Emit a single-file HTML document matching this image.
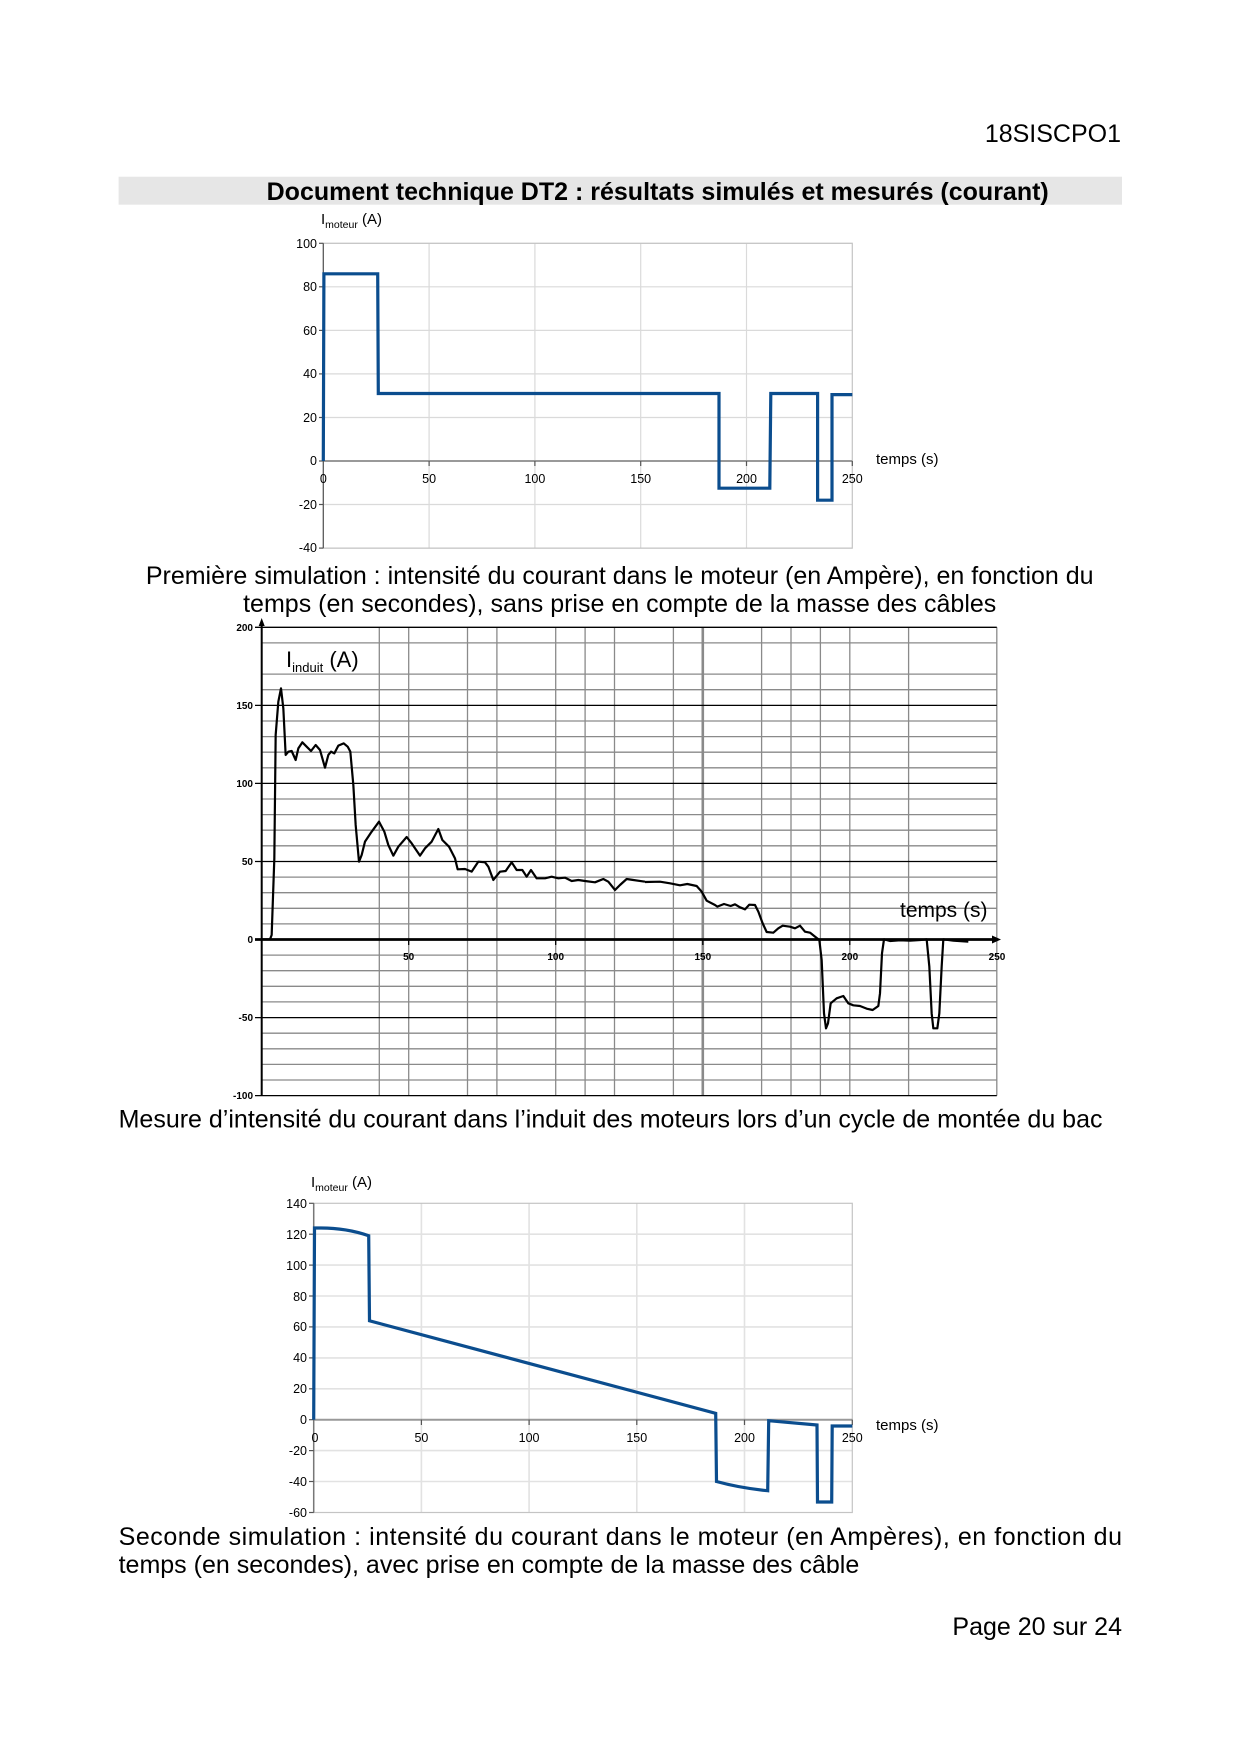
<!DOCTYPE html>
<html><head><meta charset="utf-8"><style>
html,body{margin:0;padding:0;background:#fff}
svg{display:block}
text{font-family:"Liberation Sans",Arial,sans-serif}
</style></head><body>
<svg width="1240" height="1754" viewBox="0 0 1240 1754" xmlns="http://www.w3.org/2000/svg">
<rect width="1240" height="1754" fill="#fff"/>
<text x="1121" y="142" font-size="25" text-anchor="end">18SISCPO1</text>
<rect x="118.6" y="176.7" width="1003.4" height="28" fill="#e6e6e6"/>
<text x="657.7" y="200" font-size="25" font-weight="bold" text-anchor="middle">Document technique DT2 : résultats simulés et mesurés (courant)</text>

<!-- Chart 1 -->
<g stroke="#dadada" stroke-width="1.2">
<line x1="323.3" y1="243.3" x2="852.3" y2="243.3"/><line x1="323.3" y1="286.8" x2="852.3" y2="286.8"/><line x1="323.3" y1="330.4" x2="852.3" y2="330.4"/><line x1="323.3" y1="373.9" x2="852.3" y2="373.9"/><line x1="323.3" y1="417.5" x2="852.3" y2="417.5"/><line x1="323.3" y1="504.5" x2="852.3" y2="504.5"/><line x1="323.3" y1="548.1" x2="852.3" y2="548.1"/>
<line x1="429.1" y1="243.3" x2="429.1" y2="548.1"/><line x1="534.9" y1="243.3" x2="534.9" y2="548.1"/><line x1="640.7" y1="243.3" x2="640.7" y2="548.1"/><line x1="746.5" y1="243.3" x2="746.5" y2="548.1"/>
</g>
<rect x="323.3" y="243.3" width="529" height="304.8" fill="none" stroke="#c4c4c4" stroke-width="1.2"/>
<line x1="323.3" y1="461" x2="852.3" y2="461" stroke="#999" stroke-width="2"/>
<line x1="323.3" y1="243.3" x2="323.3" y2="548.1" stroke="#555" stroke-width="1.2"/>
<g stroke="#555" stroke-width="1.2">
<line x1="319" y1="243.3" x2="323.3" y2="243.3"/><line x1="319" y1="286.8" x2="323.3" y2="286.8"/><line x1="319" y1="330.4" x2="323.3" y2="330.4"/><line x1="319" y1="373.9" x2="323.3" y2="373.9"/><line x1="319" y1="417.5" x2="323.3" y2="417.5"/><line x1="319" y1="461" x2="323.3" y2="461"/><line x1="319" y1="504.5" x2="323.3" y2="504.5"/><line x1="319" y1="548.1" x2="323.3" y2="548.1"/>
<line x1="429.1" y1="461" x2="429.1" y2="466"/><line x1="534.9" y1="461" x2="534.9" y2="466"/><line x1="640.7" y1="461" x2="640.7" y2="466"/><line x1="746.5" y1="461" x2="746.5" y2="466"/><line x1="852.3" y1="461" x2="852.3" y2="466"/>
</g>
<g font-size="12.5" text-anchor="end">
<text x="317" y="248">100</text><text x="317" y="291">80</text><text x="317" y="335">60</text><text x="317" y="378">40</text><text x="317" y="422">20</text><text x="317" y="465">0</text><text x="317" y="509">-20</text><text x="317" y="552">-40</text>
</g>
<g font-size="12.5" text-anchor="middle">
<text x="323.3" y="483">0</text><text x="429.1" y="483">50</text><text x="534.9" y="483">100</text><text x="640.7" y="483">150</text><text x="746.5" y="483">200</text><text x="852.3" y="483">250</text>
</g>
<text x="876" y="464" font-size="15">temps (s)</text>
<text x="321" y="224" font-size="15">I<tspan font-size="10.5" dy="4">moteur</tspan><tspan dy="-4"> (A)</tspan></text>
<polyline fill="none" stroke="#0b4d8e" stroke-width="3.2" points="323.3,461 323.9,273.8 377.7,273.8 378.3,393.5 719,393.5 719,488.2 769.8,488.2 770.8,393.5 817.6,393.5 817.6,500.2 832,500.2 832,394.6 852.3,394.6"/>

<text x="619.7" y="584" font-size="25" text-anchor="middle">Première simulation : intensité du courant dans le moteur (en Ampère), en fonction du</text>
<text x="619.7" y="612" font-size="25" text-anchor="middle">temps (en secondes), sans prise en compte de la masse des câbles</text>

<!-- Chart 2 -->
<g stroke="#8a8a8a" stroke-width="1.3">
<line x1="261.7" y1="642.9" x2="996.8" y2="642.9"/><line x1="261.7" y1="674.1" x2="996.8" y2="674.1"/><line x1="261.7" y1="689.7" x2="996.8" y2="689.7"/><line x1="261.7" y1="721" x2="996.8" y2="721"/><line x1="261.7" y1="736.6" x2="996.8" y2="736.6"/><line x1="261.7" y1="752.2" x2="996.8" y2="752.2"/><line x1="261.7" y1="767.8" x2="996.8" y2="767.8"/><line x1="261.7" y1="799" x2="996.8" y2="799"/><line x1="261.7" y1="814.6" x2="996.8" y2="814.6"/><line x1="261.7" y1="830.2" x2="996.8" y2="830.2"/><line x1="261.7" y1="845.8" x2="996.8" y2="845.8"/><line x1="261.7" y1="877.1" x2="996.8" y2="877.1"/><line x1="261.7" y1="892.7" x2="996.8" y2="892.7"/><line x1="261.7" y1="908.3" x2="996.8" y2="908.3"/><line x1="261.7" y1="923.9" x2="996.8" y2="923.9"/><line x1="261.7" y1="955.1" x2="996.8" y2="955.1"/><line x1="261.7" y1="970.7" x2="996.8" y2="970.7"/><line x1="261.7" y1="986.3" x2="996.8" y2="986.3"/><line x1="261.7" y1="1001.9" x2="996.8" y2="1001.9"/><line x1="261.7" y1="1033.2" x2="996.8" y2="1033.2"/><line x1="261.7" y1="1048.8" x2="996.8" y2="1048.8"/><line x1="261.7" y1="1064.4" x2="996.8" y2="1064.4"/><line x1="261.7" y1="1080" x2="996.8" y2="1080"/>
<line x1="379.3" y1="627.3" x2="379.3" y2="1095.6"/><line x1="408.7" y1="627.3" x2="408.7" y2="1095.6"/><line x1="467.5" y1="627.3" x2="467.5" y2="1095.6"/><line x1="496.9" y1="627.3" x2="496.9" y2="1095.6"/><line x1="555.7" y1="627.3" x2="555.7" y2="1095.6"/><line x1="585.1" y1="627.3" x2="585.1" y2="1095.6"/><line x1="614.5" y1="627.3" x2="614.5" y2="1095.6"/><line x1="673.4" y1="627.3" x2="673.4" y2="1095.6"/><line x1="702.8" y1="627.3" x2="702.8" y2="1095.6" stroke-width="2.6"/><line x1="761.6" y1="627.3" x2="761.6" y2="1095.6"/><line x1="791" y1="627.3" x2="791" y2="1095.6"/><line x1="820.4" y1="627.3" x2="820.4" y2="1095.6"/><line x1="849.8" y1="627.3" x2="849.8" y2="1095.6"/><line x1="908.6" y1="627.3" x2="908.6" y2="1095.6"/><line x1="996.8" y1="627.3" x2="996.8" y2="1095.6"/>
</g>
<g stroke="#000" stroke-width="1.3">
<line x1="255" y1="627.3" x2="996.8" y2="627.3"/><line x1="255" y1="705.4" x2="996.8" y2="705.4"/><line x1="255" y1="783.4" x2="996.8" y2="783.4"/><line x1="255" y1="861.5" x2="996.8" y2="861.5"/><line x1="255" y1="1017.6" x2="996.8" y2="1017.6"/><line x1="255" y1="1095.6" x2="996.8" y2="1095.6"/>
<line x1="261.7" y1="622" x2="261.7" y2="1095.6" stroke-width="2"/>
</g>
<polygon points="261.7,618 258.7,626 264.7,626" fill="#000"/>
<line x1="255" y1="939.5" x2="994" y2="939.5" stroke="#000" stroke-width="2.8"/>
<polygon points="1001,939.5 992,935.5 992,943.5" fill="#000"/>
<g stroke="#000" stroke-width="1.3"><line x1="408.7" y1="939.5" x2="408.7" y2="945"/><line x1="555.7" y1="939.5" x2="555.7" y2="945"/><line x1="702.8" y1="939.5" x2="702.8" y2="945"/><line x1="849.8" y1="939.5" x2="849.8" y2="945"/></g>
<g font-size="10" font-weight="bold" text-anchor="end">
<text x="253" y="631">200</text><text x="253" y="709">150</text><text x="253" y="787">100</text><text x="253" y="865">50</text><text x="253" y="943">0</text><text x="253" y="1021">-50</text><text x="253" y="1099">-100</text>
</g>
<g font-size="10" font-weight="bold" text-anchor="middle">
<text x="408.7" y="960">50</text><text x="555.7" y="960">100</text><text x="702.8" y="960">150</text><text x="849.8" y="960">200</text><text x="997" y="960">250</text>
</g>
<text x="900" y="917" font-size="21">temps (s)</text>
<text x="286" y="667" font-size="22">I<tspan font-size="13" dy="5">induit</tspan><tspan dy="-5"> (A)</tspan></text>
<g fill="none" stroke="#000" stroke-width="2.2" stroke-linejoin="round">
<polyline transform="translate(225,625) scale(0.33333)" vector-effect="non-scaling-stroke" points="110,943 135,943 140,930 148,700 152,330 160,230 168,190 175,250 182,390 190,380 200,378 212,405 220,370 232,352 245,365 258,378 272,360 285,375 300,428 310,390 318,380 328,385 340,362 356,355 368,365 376,380 385,480 392,600 402,710 410,690 420,650 440,620 462,590 478,620 490,660 505,692 520,665 545,636 560,655 585,692 600,670 620,650 640,612 652,645 672,665 690,700 698,733 720,732 740,740 760,710 780,712 790,725 805,765 825,740 842,738 860,712 875,735 892,735 905,755 918,735 935,760 960,760 980,755 1000,760 1020,758 1040,768 1060,765 1080,768 1110,772 1125,766 1135,762 1150,770 1170,795 1185,780 1205,762 1225,765 1260,770"/>
<polyline transform="translate(600,780) scale(0.33333)" vector-effect="non-scaling-stroke" points="135,306 180,305 210,310 240,316 262,312 290,318 305,335 320,362 345,375 352,380 372,372 392,378 405,373 420,382 435,388 448,374 465,375 475,395 488,430 500,456 520,458 535,445 548,437 570,440 585,445 600,437 615,455 630,458 645,470 658,480 665,540 672,700 678,745 684,730 692,670 710,655 730,648 745,670 760,676 780,678 800,686 818,690 835,678 840,640 846,520 852,478 870,483 900,481 930,482 960,480 980,478 988,560 995,700 1000,745 1012,745 1018,700 1025,560 1030,478 1060,482 1105,485"/>
</g>

<text x="118.6" y="1127.6" font-size="25">Mesure d’intensité du courant dans l’induit des moteurs lors d’un cycle de montée du bac</text>

<!-- Chart 3 -->
<g stroke="#e2e2e2" stroke-width="1.6">
<line x1="313.7" y1="1234.2" x2="852.3" y2="1234.2"/><line x1="313.7" y1="1265.1" x2="852.3" y2="1265.1"/><line x1="313.7" y1="1296" x2="852.3" y2="1296"/><line x1="313.7" y1="1326.9" x2="852.3" y2="1326.9"/><line x1="313.7" y1="1357.9" x2="852.3" y2="1357.9"/><line x1="313.7" y1="1388.8" x2="852.3" y2="1388.8"/><line x1="313.7" y1="1450.6" x2="852.3" y2="1450.6"/><line x1="313.7" y1="1481.5" x2="852.3" y2="1481.5"/>
<line x1="421.4" y1="1203.3" x2="421.4" y2="1512.5"/><line x1="529.1" y1="1203.3" x2="529.1" y2="1512.5"/><line x1="636.8" y1="1203.3" x2="636.8" y2="1512.5"/><line x1="744.5" y1="1203.3" x2="744.5" y2="1512.5"/>
</g>
<rect x="313.7" y="1203.3" width="538.6" height="309.2" fill="none" stroke="#c4c4c4" stroke-width="1.2"/>
<line x1="313.7" y1="1419.7" x2="852.3" y2="1419.7" stroke="#999" stroke-width="2"/>
<line x1="313.7" y1="1203.3" x2="313.7" y2="1512.5" stroke="#777" stroke-width="1.5"/>
<g stroke="#555" stroke-width="1.2">
<line x1="309" y1="1203.3" x2="313.7" y2="1203.3"/><line x1="309" y1="1234.2" x2="313.7" y2="1234.2"/><line x1="309" y1="1265.1" x2="313.7" y2="1265.1"/><line x1="309" y1="1296" x2="313.7" y2="1296"/><line x1="309" y1="1326.9" x2="313.7" y2="1326.9"/><line x1="309" y1="1357.9" x2="313.7" y2="1357.9"/><line x1="309" y1="1388.8" x2="313.7" y2="1388.8"/><line x1="309" y1="1419.7" x2="313.7" y2="1419.7"/><line x1="309" y1="1450.6" x2="313.7" y2="1450.6"/><line x1="309" y1="1481.5" x2="313.7" y2="1481.5"/><line x1="309" y1="1512.5" x2="313.7" y2="1512.5"/>
<line x1="421.4" y1="1419.7" x2="421.4" y2="1425"/><line x1="529.1" y1="1419.7" x2="529.1" y2="1425"/><line x1="636.8" y1="1419.7" x2="636.8" y2="1425"/><line x1="744.5" y1="1419.7" x2="744.5" y2="1425"/><line x1="852.3" y1="1419.7" x2="852.3" y2="1425"/>
</g>
<g font-size="12.5" text-anchor="end">
<text x="307" y="1208">140</text><text x="307" y="1239">120</text><text x="307" y="1270">100</text><text x="307" y="1301">80</text><text x="307" y="1331">60</text><text x="307" y="1362">40</text><text x="307" y="1393">20</text><text x="307" y="1424">0</text><text x="307" y="1455">-20</text><text x="307" y="1486">-40</text><text x="307" y="1517">-60</text>
</g>
<g font-size="12.5" text-anchor="middle">
<text x="315" y="1442">0</text><text x="421.4" y="1442">50</text><text x="529.1" y="1442">100</text><text x="636.8" y="1442">150</text><text x="744.5" y="1442">200</text><text x="852.3" y="1442">250</text>
</g>
<text x="876" y="1430" font-size="15">temps (s)</text>
<text x="311" y="1187" font-size="15">I<tspan font-size="10.5" dy="4">moteur</tspan><tspan dy="-4"> (A)</tspan></text>
<path fill="none" stroke="#0b4d8e" stroke-width="3.2" stroke-linejoin="miter" d="M313.7,1419.7 L314.5,1228 L318,1228 Q345,1227.5 368.7,1235.7 L369.5,1320.8 L715.7,1413.3 L716.5,1481.5 Q740,1488 767.7,1490.7 L768.7,1420.7 L817,1425 L817.5,1502 L831.7,1502 L832.2,1426 L852.3,1426"/>

<text x="118.6" y="1545" font-size="25" textLength="1003.4" lengthAdjust="spacing">Seconde simulation : intensité du courant dans le moteur (en Ampères), en fonction du</text>
<text x="118.6" y="1573" font-size="25">temps (en secondes), avec prise en compte de la masse des câble</text>
<text x="1122" y="1635" font-size="25" text-anchor="end">Page 20 sur 24</text>
</svg>
</body></html>
